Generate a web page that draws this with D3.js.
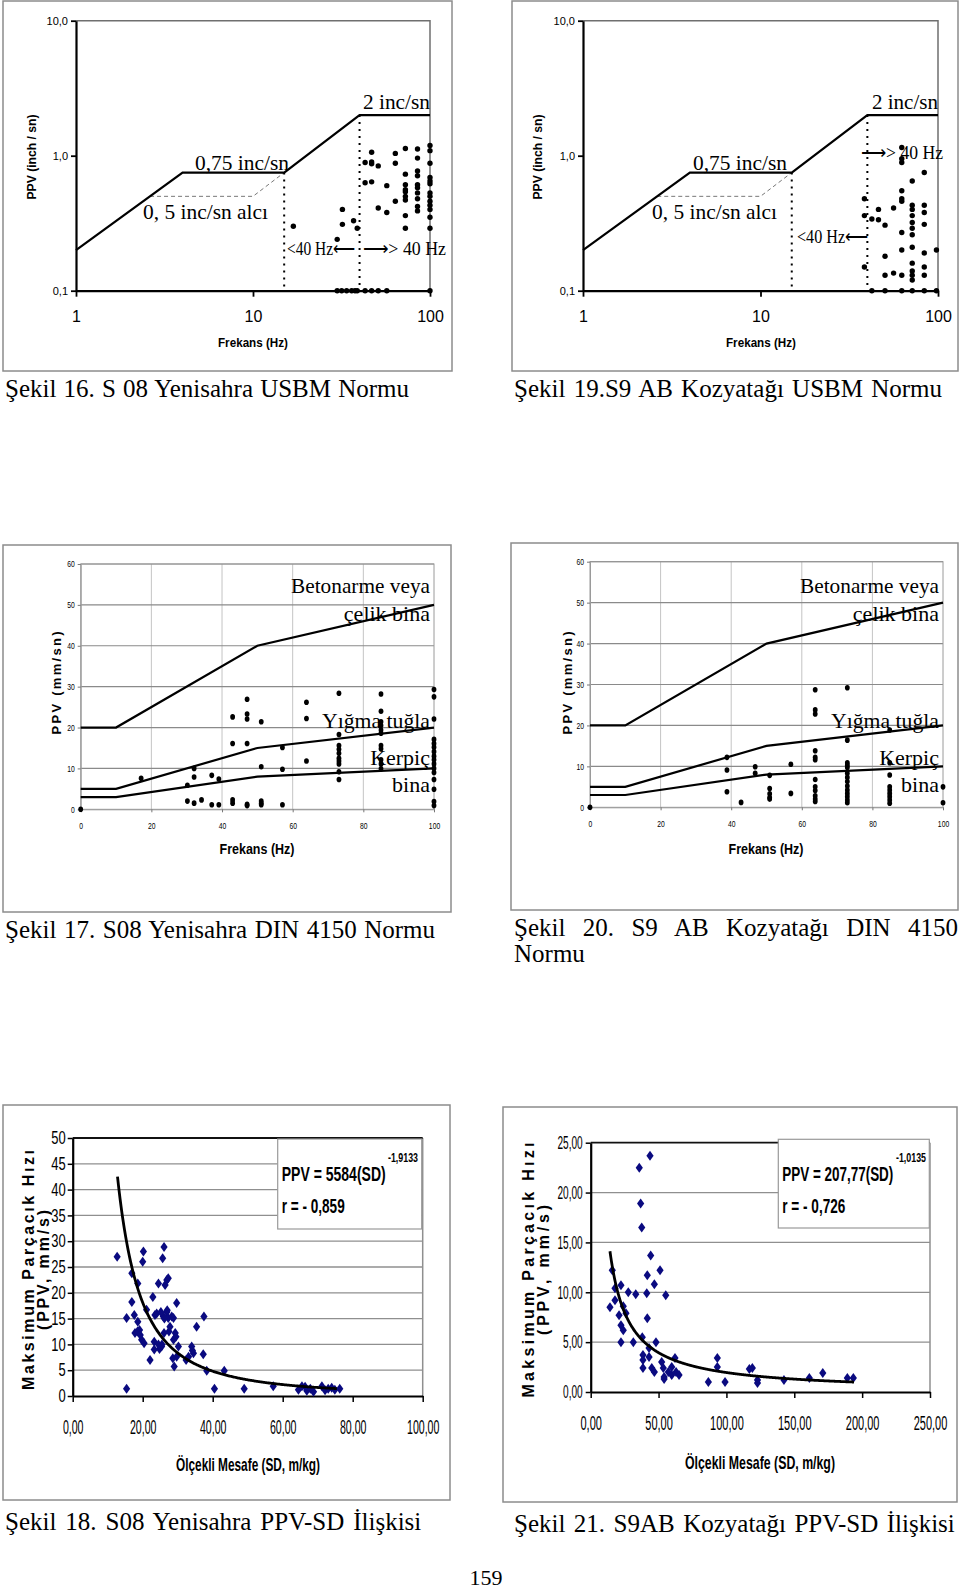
<!DOCTYPE html>
<html><head><meta charset="utf-8">
<script src="https://cdn.jsdelivr.net/npm/d3@7"></script>
<style>body{margin:0;background:#fff}svg{display:block}</style>
</head><body>
<svg id="c" width="960" height="1589"></svg>
<script>
// ================= DATA =================
// USBM charts (log-log)
const usbmXTicks = [1, 10, 100];
const usbmXTickLabels = ["1", "10", "100"];
const usbmYTicks = [0.1, 1, 10];
const usbmYTickLabels = ["0,1", "1,0", "10,0"];
const usbmLimitFreq = [1, 4, 15, 40, 100];
const usbmLimitPpv = [0.2, 0.75, 0.75, 2, 2];
const usbmAlciFreq = [2.62, 10, 15];
const usbmAlciPpv = [0.5, 0.5, 0.75];
const usbmDivFreq = [15, 40];
const usbmDivTop = [0.75, 2];

// Şekil 16 points: frequency columns and PPV values per column
const s16Freq = [16.9, 29.9, 31.7, 32, 33.8, 36.1, 37, 37.7, 38.8, 43, 46.8, 51, 57, 63.7, 72.6, 85, 100];
const s16Ppv = [
  [0.30], [0.24, 0.1], [0.1], [0.40, 0.31], [0.1], [0.1], [0.33], [0.1], [0.29, 0.1],
  [0.89, 0.63, 0.1], [1.06, 0.90, 0.87, 0.64, 0.1], [0.84, 0.41, 0.1], [0.60, 0.38, 0.1],
  [1.04, 0.88, 0.46],
  [1.13, 0.73, 0.61, 0.56, 0.54, 0.50, 0.47, 0.36, 0.29],
  [1.12, 0.96, 0.77, 0.71, 0.61, 0.58, 0.53, 0.48, 0.42, 0.39],
  [1.19, 1.09, 0.88, 0.69, 0.65, 0.62, 0.53, 0.50, 0.46, 0.43, 0.40, 0.35, 0.29, 0.1]
];
// Şekil 19 points
const s19Freq = [38.5, 42.4, 46.2, 50.3, 56.2, 62.5, 71.6, 83.7, 98];
const s19Ppv = [
  [0.48, 0.36, 0.15], [0.34, 0.1], [0.40, 0.335], [0.306, 0.18, 0.13, 0.1], [0.41, 0.135],
  [1.15, 0.95, 0.89, 0.55, 0.48, 0.46, 0.27, 0.20, 0.13, 0.1],
  [0.65, 0.43, 0.40, 0.36, 0.32, 0.29, 0.26, 0.21, 0.16, 0.14, 0.13, 0.12, 0.1],
  [0.75, 0.43, 0.38, 0.31, 0.19, 0.15, 0.13, 0.1],
  [0.20, 0.1]
];

// DIN 4150 charts
const dinXTicks = [0, 20, 40, 60, 80, 100];
const dinYTicks = [0, 10, 20, 30, 40, 50, 60];
const dinFreq = [0, 10, 50, 100];
const dinBetonarme = [20, 20, 40, 50];
const dinYigma = [5, 5, 15, 20];
const dinKerpic = [3, 3, 8, 10];

const s17Freq = [0, 17.1, 30.2, 32.1, 34.2, 37.1, 39.1, 43, 47.1, 51.1, 57.1, 63.9, 73.1, 85, 100];
const s17Ppv = [
  [0], [7.6], [5.9, 2.0], [10.0, 7.9, 1.5], [2.3], [8.3, 1.1], [7.4, 1.1],
  [22.6, 16.1, 2.3, 1.5], [26.9, 23.3, 22.1, 16.1, 1.2, 0.9], [21.4, 10.4, 2.0, 1.5, 1.1],
  [15.1, 9.8, 1.1], [26.2, 22.2, 11.8],
  [28.4, 18.3, 15.6, 14.7, 13.7, 12.5, 11.8, 11.1, 9.2, 7.3],
  [28.2, 24.0, 21.4, 20.5, 19.4, 18.6, 15.6, 14.8, 12.1, 11.1, 9.9],
  [29.3, 27.5, 22.1, 17.1, 16.1, 15.2, 14.1, 13.0, 12.1, 11.1, 10.0, 9.0, 7.3, 4.9, 1.9, 0.9]
];
const s20Freq = [0, 38.8, 42.8, 46.8, 50.9, 56.9, 63.8, 72.9, 84.9, 100];
const s20Ppv = [
  [0], [12.2, 9.1, 3.8], [1.2], [9.9, 8.3], [7.8, 4.6, 3.3, 2.4, 2.0], [10.5, 3.4],
  [28.7, 23.8, 22.8, 13.8, 12.2, 11.6, 6.8, 5.0, 4.1, 2.8, 2.0, 1.4],
  [29.2, 16.4, 10.9, 10.3, 9.7, 8.3, 7.3, 6.3, 5.2, 4.2, 3.4, 2.6, 1.8, 1.1],
  [18.9, 10.9, 7.9, 5.0, 4.2, 3.4, 2.6, 1.8, 1.0],
  [5.0, 1.1]
];

// PPV - SD charts
const s18XTicks = [0, 20, 40, 60, 80, 100];
const s18YTicks = [0, 5, 10, 15, 20, 25, 30, 35, 40, 45, 50];
const s18SD = [12.7, 15.4, 15.4, 16.9, 16.9, 17.6, 17.8, 18.6, 18.6, 19.1, 19.7, 20.2, 20.0, 20.4, 21.1, 22.1, 22.9, 23.3, 23.5, 24.5,
  24.8, 25.4, 25.7, 26.1, 25.9, 26.1, 26.4, 26.9, 26.9, 27.3, 27.3, 27.8, 28.3, 28.8, 28.8, 29.3, 29.0, 28.6, 29.7, 29.7,
  30.2, 32.4, 33.1, 34.0, 34.5, 35.4, 37.5, 37.3, 38.3, 40.5, 43.3, 49.0, 57.3, 64.5, 65.5, 66.4, 66.9, 67.9, 68.8, 71.2,
  72.1, 73.0, 74.0, 74.9, 76.3, 24.0, 25.2, 27.0, 26.2, 23.3, 24.5, 25.5, 27.5, 29.5, 18.5, 19.3, 34.2];
const s18PPV = [27.0, 15.1, 1.4, 23.8, 18.2, 15.7, 12.2, 21.8, 14.4, 12.8, 10.9, 28.0, 26.0, 10.2, 16.7, 7.0, 19.2, 10.5, 15.7, 21.8,
  9.1, 9.6, 26.7, 28.9, 15.4, 12.2, 21.5, 16.3, 22.5, 22.8, 15.1, 13.4, 15.4, 10.9, 15.1, 12.2, 5.7, 7.3, 18.0, 7.6,
  9.6, 7.0, 7.6, 9.6, 8.3, 13.4, 15.4, 8.1, 4.9, 1.4, 4.9, 1.4, 1.9, 1.2, 1.9, 1.8, 1.0, 1.4, 0.8, 1.9,
  1.1, 1.4, 1.6, 1.2, 1.4, 16.0, 16.3, 16.6, 15.0, 9.0, 10.0, 10.0, 12.5, 11.5, 12.5, 11.8, 8.8];
const s18Coef = 5584, s18Exp = -1.9133, s18FitFrom = 12.8, s18FitTo = 75.5;

const s21XTicks = [0, 50, 100, 150, 200, 250];
const s21YTicks = [0, 5, 10, 15, 20, 25];
const s21SD = [14.2, 15.9, 17.9, 17.9, 20.9, 22.3, 22.3, 22.3, 24.0, 24.0, 26.0, 27.7, 31.4, 33.2, 35.8, 36.8, 37.6, 38.0, 38.5, 38.5,
  38.5, 41.3, 41.7, 41.7, 43.0, 43.0, 43.7, 44.2, 45.0, 46.9, 48.1, 46.9, 51.1, 52.3, 53.5, 55.3, 54.1, 54.1, 57.2, 59.7,
  59.7, 62.1, 62.9, 65.1, 86.7, 93.3, 93.3, 99.0, 116.9, 119.1, 122.9, 122.9, 142.4, 161.1, 171.0, 189.1, 193.5];
const s21PPV = [8.5, 12.2, 10.4, 9.2, 7.7, 6.7, 10.7, 5.0, 8.6, 6.2, 7.9, 10.0, 5.0, 9.8, 22.5, 18.9, 16.5, 5.5, 3.7, 3.2,
  2.4, 9.9, 11.7, 7.4, 4.4, 3.5, 23.7, 13.7, 2.4, 10.8, 5.0, 2.0, 12.2, 3.0, 2.4, 9.7, 1.5, 1.3, 2.0, 2.5,
  1.7, 3.4, 2.0, 1.7, 1.0, 3.4, 2.5, 1.0, 2.3, 2.4, 1.2, 0.9, 1.2, 1.4, 1.9, 1.4, 1.4];
const s21Coef = 207.77, s21Exp = -1.0135, s21FitFrom = 14.2, s21FitTo = 194;

// ================= DRAWING =================
const SERIF = "'Liberation Serif','Times New Roman',serif";
const SANS = "'Liberation Sans',Arial,sans-serif";
const svg = d3.select('#c');

function txt(g, s, x, y, o = {}) {
  const t = g.append('text').text(s)
    .attr('font-family', o.ff || SERIF).attr('font-size', o.fs || 20)
    .attr('text-anchor', o.anchor || 'start').attr('font-weight', o.fw || 'normal')
    .attr('fill', o.fill || '#000');
  if (o.rot) t.attr('transform', `translate(${x},${y}) rotate(-90)`);
  else t.attr('x', x).attr('y', y);
  if (o.dy) t.attr('dy', o.dy);
  if (o.len) t.attr('textLength', o.len).attr('lengthAdjust', o.adj || 'spacingAndGlyphs');
  return t;
}
// justify a line of text to a width by widening the word gaps
function justify(t, w) {
  const node = t.node();
  const L = node.getComputedTextLength();
  const n = (t.text().match(/ /g) || []).length;
  if (n > 0) t.attr('word-spacing', (w - L) / n);
  return t;
}
function condense(sel, k) {
  sel.each(function () {
    const L = this.getComputedTextLength();
    this.setAttribute('textLength', L * k);
    this.setAttribute('lengthAdjust', 'spacingAndGlyphs');
  });
}
function frame(g, x0, y0, x1, y1) {
  g.append('rect').attr('x', x0).attr('y', y0).attr('width', x1 - x0).attr('height', y1 - y0)
    .attr('fill', 'none').attr('stroke', '#8c8c8c').attr('stroke-width', 1.5);
}
const flat = (fr, pv) => fr.flatMap((f, i) => pv[i].map(v => [f, v]));

// ---------- USBM ----------
function usbm(c) {
  const g = svg.append('g');
  frame(g, c.fx0, c.fy0, c.fx1, c.fy1);
  const x = d3.scaleLog().domain([1, 100]).range([c.x0, c.x1]);
  const y = d3.scaleLog().domain([0.1, 10]).range([c.yb, c.yt]);
  g.append('path').attr('d', `M${c.x0},${c.yt}H${c.x1}V${c.yb}`)
    .attr('fill', 'none').attr('stroke', '#6f6f6f').attr('stroke-width', 1.5);
  const xa = g.append('g').attr('transform', `translate(0,${c.yb})`)
    .call(d3.axisBottom(x).tickValues(usbmXTicks).tickFormat((d, i) => usbmXTickLabels[i]).tickSize(6).tickSizeOuter(0));
  const ya = g.append('g').attr('transform', `translate(${c.x0},0)`)
    .call(d3.axisLeft(y).tickValues(usbmYTicks).tickFormat((d, i) => usbmYTickLabels[i]).tickSize(5).tickSizeOuter(0));
  [xa, ya].forEach(a => {
    a.select('.domain').attr('stroke', '#000').attr('stroke-width', 2.2);
    a.selectAll('.tick line').attr('stroke', '#000').attr('stroke-width', 1.8);
  });
  xa.selectAll('text').attr('y', 26).attr('dy', '0.35em').attr('font-family', SANS).attr('font-size', 16);
  ya.selectAll('text').attr('x', -8).attr('font-family', SANS).attr('font-size', 11);
  const line = d3.line().x(d => x(d[0])).y(d => y(d[1]));
  g.append('path').attr('d', line(usbmAlciFreq.map((f, i) => [f, usbmAlciPpv[i]])))
    .attr('fill', 'none').attr('stroke', '#777').attr('stroke-width', 1).attr('stroke-dasharray', '4,3');
  usbmDivFreq.forEach((f, i) => {
    g.append('line').attr('x1', x(f)).attr('x2', x(f)).attr('y1', y(usbmDivTop[i])).attr('y2', y(0.1))
      .attr('stroke', '#000').attr('stroke-width', 2).attr('stroke-dasharray', '2,5');
  });
  g.append('path').attr('d', line(usbmLimitFreq.map((f, i) => [f, usbmLimitPpv[i]])))
    .attr('fill', 'none').attr('stroke', '#000').attr('stroke-width', 2.2);
  g.selectAll('circle.p').data(flat(c.freq, c.ppv)).join('circle')
    .attr('cx', d => x(d[0])).attr('cy', d => y(d[1])).attr('r', 2.7).attr('fill', '#000');
  txt(g, 'Frekans (Hz)', c.xt, 347, { ff: SANS, fs: 12, fw: 'bold', anchor: 'middle', len: 70 });
  txt(g, 'PPV (inch / sn)', c.yx, 157, { ff: SANS, fs: 12, fw: 'bold', anchor: 'middle', rot: true, dy: '0.35em', len: 85 });
  c.labels.forEach(l => txt(g, l[0], l[1], l[2], { fs: l[3], len: l[4], adj: 'spacingAndGlyphs' }));
  justify(txt(g, c.caption, c.capx, 397, { fs: 25 }), c.capw);
}
usbm({
  fx0: 3, fy0: 1, fx1: 452, fy1: 371, x0: 76, x1: 430, yt: 20.7, yb: 290.7,
  freq: s16Freq, ppv: s16Ppv, xt: 253, yx: 32,
  labels: [['2 inc/sn', 363, 109, 22, 67], ['0,75 inc/sn', 195, 170, 22, 94], ['0, 5 inc/sn alcı', 143, 219, 22, 125],
    ['<40 Hz⟵', 287, 255, 19, 68], ['⟶> 40 Hz', 363, 255, 19, 83]],
  caption: 'Şekil 16. S 08 Yenisahra USBM Normu', capx: 5, capw: 404
});
usbm({
  fx0: 512, fy0: 1, fx1: 958, fy1: 371, x0: 583, x1: 938, yt: 20.7, yb: 290.7,
  freq: s19Freq, ppv: s19Ppv, xt: 761, yx: 538,
  labels: [['2 inc/sn', 872, 109, 22, 66], ['0,75 inc/sn', 693, 170, 22, 94], ['0, 5 inc/sn alcı', 652, 219, 22, 125],
    ['<40 Hz⟵', 797, 243, 19, 71], ['⟶> 40 Hz', 861, 159, 19, 82]],
  caption: 'Şekil 19.S9 AB  Kozyatağı USBM Normu', capx: 514, capw: 430
});

// ---------- DIN 4150 ----------
function din(c) {
  const g = svg.append('g');
  frame(g, c.fx0, c.fy0, c.fx1, c.fy1);
  const x = d3.scaleLinear().domain([0, 100]).range([c.x0, c.x1]);
  const y = d3.scaleLinear().domain([0, 60]).range([c.yb, c.yt]);
  g.append('g').selectAll('line').data(dinXTicks.slice(1, -1)).join('line')
    .attr('x1', d => x(d)).attr('x2', d => x(d)).attr('y1', c.yt).attr('y2', c.yb)
    .attr('stroke', '#c4c4c4').attr('stroke-width', 1);
  g.append('g').selectAll('line').data(dinYTicks.slice(1)).join('line')
    .attr('x1', c.x0).attr('x2', c.x1).attr('y1', d => y(d)).attr('y2', d => y(d))
    .attr('stroke', '#8a8a8a').attr('stroke-width', 1.2);
  g.append('rect').attr('x', c.x0).attr('y', c.yt).attr('width', c.x1 - c.x0).attr('height', c.yb - c.yt)
    .attr('fill', 'none').attr('stroke', '#9a9a9a').attr('stroke-width', 1);
  const xa = g.append('g').attr('transform', `translate(0,${c.yb})`)
    .call(d3.axisBottom(x).tickValues(dinXTicks).tickSize(3).tickSizeOuter(0));
  const ya = g.append('g').attr('transform', `translate(${c.x0},0)`)
    .call(d3.axisLeft(y).tickValues(dinYTicks).tickSize(3).tickSizeOuter(0));
  [xa, ya].forEach(a => {
    a.select('.domain').attr('stroke', '#9a9a9a').attr('stroke-width', 1);
    a.selectAll('.tick line').attr('stroke', '#777');
  });
  xa.selectAll('text').attr('y', 17).attr('dy', '0.35em').attr('font-family', SANS).attr('font-size', 9);
  ya.selectAll('text').attr('x', -6).attr('font-family', SANS).attr('font-size', 9);
  condense(xa.selectAll('text'), 0.75);
  condense(ya.selectAll('text'), 0.75);
  const line = d3.line().x((d, i) => x(dinFreq[i])).y(d => y(d));
  [dinBetonarme, dinYigma, dinKerpic].forEach(s => {
    g.append('path').attr('d', line(s)).attr('fill', 'none').attr('stroke', '#000').attr('stroke-width', 2.2);
  });
  g.selectAll('ellipse').data(flat(c.freq, c.ppv)).join('ellipse')
    .attr('cx', d => x(d[0])).attr('cy', d => y(d[1])).attr('rx', 2.4).attr('ry', 2.8).attr('fill', '#000');
  const rx = c.lx;
  txt(g, 'Betonarme veya', rx, 593, { fs: 22, anchor: 'end', len: 139 });
  txt(g, 'çelik bina', rx, 621, { fs: 22, anchor: 'end' });
  txt(g, 'Yığma tuğla', rx, 728, { fs: 22, anchor: 'end', len: 108 });
  txt(g, 'Kerpiç', rx, 765, { fs: 22, anchor: 'end' });
  txt(g, 'bina', rx, 792, { fs: 22, anchor: 'end' });
  txt(g, 'Frekans (Hz)', c.xt, 854, { ff: SANS, fs: 15, fw: 'bold', anchor: 'middle', len: 75 });
  txt(g, 'PPV (mm/sn)', c.yx, 683, { ff: SANS, fs: 13, fw: 'bold', anchor: 'middle', rot: true, dy: '0.35em', len: 103, adj: 'spacing' });
}
din({ fx0: 3, fy0: 545, fx1: 451, fy1: 912, x0: 80.7, x1: 434, yt: 564, yb: 809.3,
  freq: s17Freq, ppv: s17Ppv, lx: 430, xt: 257, yx: 56.5 });
din({ fx0: 511, fy0: 543, fx1: 958, fy1: 910, x0: 590, x1: 943, yt: 561.7, yb: 807.3,
  freq: s20Freq, ppv: s20Ppv, lx: 939, xt: 766, yx: 567 });
{
  const g = svg.append('g');
  justify(txt(g, 'Şekil 17. S08 Yenisahra DIN 4150 Normu', 5, 938, { fs: 25 }), 430);
  justify(txt(g, 'Şekil 20. S9 AB Kozyatağı DIN 4150', 514, 936, { fs: 25 }), 444);
  txt(g, 'Normu', 514, 962, { fs: 25 });
}

// ---------- PPV - SD ----------
const diamond = 'M0,-5L3.6,0L0,5L-3.6,0Z';
function ppvsd(c) {
  const g = svg.append('g');
  frame(g, c.fx0, c.fy0, c.fx1, c.fy1);
  const x = d3.scaleLinear().domain(c.xd).range([c.x0, c.x1]);
  const y = d3.scaleLinear().domain(c.yd).range([c.yb, c.yt]);
  g.append('g').selectAll('line').data(c.yTicks.slice(1, -1)).join('line')
    .attr('x1', c.x0).attr('x2', c.x1).attr('y1', d => y(d)).attr('y2', d => y(d))
    .attr('stroke', '#8f8f8f').attr('stroke-width', 1.3);
  g.append('line').attr('x1', c.x1).attr('x2', c.x1).attr('y1', c.yt).attr('y2', c.yb)
    .attr('stroke', '#8f8f8f').attr('stroke-width', 1.5);
  g.append('line').attr('x1', c.x0).attr('x2', c.x1).attr('y1', c.yt).attr('y2', c.yt)
    .attr('stroke', '#111').attr('stroke-width', 1.8);
  const xa = g.append('g').attr('transform', `translate(0,${c.yb})`)
    .call(d3.axisBottom(x).tickValues(c.xTicks).tickFormat(d => d3.format('.2f')(d).replace('.', ',')).tickSize(6).tickSizeOuter(0));
  const ya = g.append('g').attr('transform', `translate(${c.x0},0)`)
    .call(d3.axisLeft(y).tickValues(c.yTicks).tickFormat(c.yFmt).tickSize(5).tickSizeOuter(0));
  [xa, ya].forEach(a => {
    a.select('.domain').attr('stroke', '#000').attr('stroke-width', 2.2);
    a.selectAll('.tick line').attr('stroke', '#000').attr('stroke-width', 1.5);
  });
  xa.selectAll('text').attr('y', c.xly).attr('dy', '0.35em').attr('font-family', SANS).attr('font-size', 20);
  ya.selectAll('text').attr('x', c.ylx).attr('font-family', SANS).attr('font-size', c.yfs);
  condense(xa.selectAll('text'), c.xk);
  condense(ya.selectAll('text'), c.yk);
  g.selectAll('path.pt').data(c.sd.map((s, i) => [s, c.ppv[i]])).join('path').attr('class', 'pt')
    .attr('d', diamond).attr('transform', d => `translate(${x(d[0])},${y(d[1])})`).attr('fill', '#0a0a80');
  // power trend line drawn from the printed equation coefficients
  const xs = d3.range(c.fitFrom, c.fitTo, 0.25).concat([c.fitTo]);
  g.append('path').attr('d', d3.line().x(d => x(d)).y(d => y(c.coef * Math.pow(d, c.exp)))(xs))
    .attr('fill', 'none').attr('stroke', '#000').attr('stroke-width', 2.8);
  g.append('rect').attr('x', c.bx0).attr('y', c.by0).attr('width', c.bx1 - c.bx0).attr('height', c.by1 - c.by0)
    .attr('fill', '#fff').attr('stroke', '#9a9a9a').attr('stroke-width', 1.2);
  txt(g, c.eq, c.bx0 + 4, 1181, { ff: SANS, fs: 21, fw: 'bold', len: c.eqw });
  txt(g, c.sup, c.supx, 1162, { ff: SANS, fs: 12, fw: 'bold', len: 30 });
  txt(g, c.r, c.bx0 + 4, 1213, { ff: SANS, fs: 21, fw: 'bold', len: 63 });
  txt(g, 'Ölçekli Mesafe (SD, m/kg)', c.xt, c.xty, { ff: SANS, fs: 19, fw: 'bold', anchor: 'middle', len: c.xtw });
  txt(g, 'Maksimum Parçacık Hızı', c.yt1x, c.ytc, { ff: SANS, fs: 16, fw: 'bold', anchor: 'middle', rot: true, dy: '0.35em', len: c.yt1w, adj: 'spacing' });
  txt(g, '(PPV, mm/s)', c.yt2x, c.ytc, { ff: SANS, fs: 16, fw: 'bold', anchor: 'middle', rot: true, dy: '0.35em', len: c.yt2w, adj: 'spacing' });
  justify(txt(g, c.caption, c.capx, c.capy, { fs: 25 }), c.capw);
}
ppvsd({
  fx0: 3, fy0: 1105, fx1: 450, fy1: 1500, x0: 72.7, x1: 422.7, yt: 1138, yb: 1396,
  xd: [0, 100], yd: [0, 50], xTicks: s18XTicks, yTicks: s18YTicks, yFmt: d => String(d),
  xly: 31, ylx: -7, yfs: 18, xk: 0.53, yk: 0.72,
  sd: s18SD, ppv: s18PPV, coef: s18Coef, exp: s18Exp, fitFrom: s18FitFrom, fitTo: s18FitTo,
  bx0: 277.7, by0: 1139, bx1: 421.7, by1: 1229,
  eq: 'PPV = 5584(SD)', eqw: 104, sup: '-1,9133', supx: 388, r: 'r = - 0,859',
  xt: 248, xty: 1471, xtw: 144, yt1x: 28, yt2x: 43, ytc: 1270, yt1w: 240, yt2w: 120,
  caption: 'Şekil 18.  S08 Yenisahra PPV-SD İlişkisi', capx: 5, capy: 1530, capw: 419
});
ppvsd({
  fx0: 503, fy0: 1107, fx1: 957, fy1: 1502, x0: 590.7, x1: 930, yt: 1142.7, yb: 1392,
  xd: [0, 250], yd: [0, 25], xTicks: s21XTicks, yTicks: s21YTicks, yFmt: d => d3.format('.2f')(d).replace('.', ','),
  xly: 31, ylx: -8, yfs: 18, xk: 0.55, yk: 0.56,
  sd: s21SD, ppv: s21PPV, coef: s21Coef, exp: s21Exp, fitFrom: s21FitFrom, fitTo: s21FitTo,
  bx0: 778.3, by0: 1139.3, bx1: 929.3, by1: 1228,
  eq: 'PPV = 207,77(SD)', eqw: 111, sup: '-1,0135', supx: 896, r: 'r = - 0,726',
  xt: 760, xty: 1469, xtw: 150, yt1x: 528, yt2x: 543, ytc: 1270, yt1w: 255, yt2w: 130,
  caption: 'Şekil 21.  S9AB Kozyatağı PPV-SD İlişkisi', capx: 514, capy: 1532, capw: 443
});
txt(svg, '159', 486, 1585, { fs: 22, anchor: 'middle' });
</script>
</body></html>
